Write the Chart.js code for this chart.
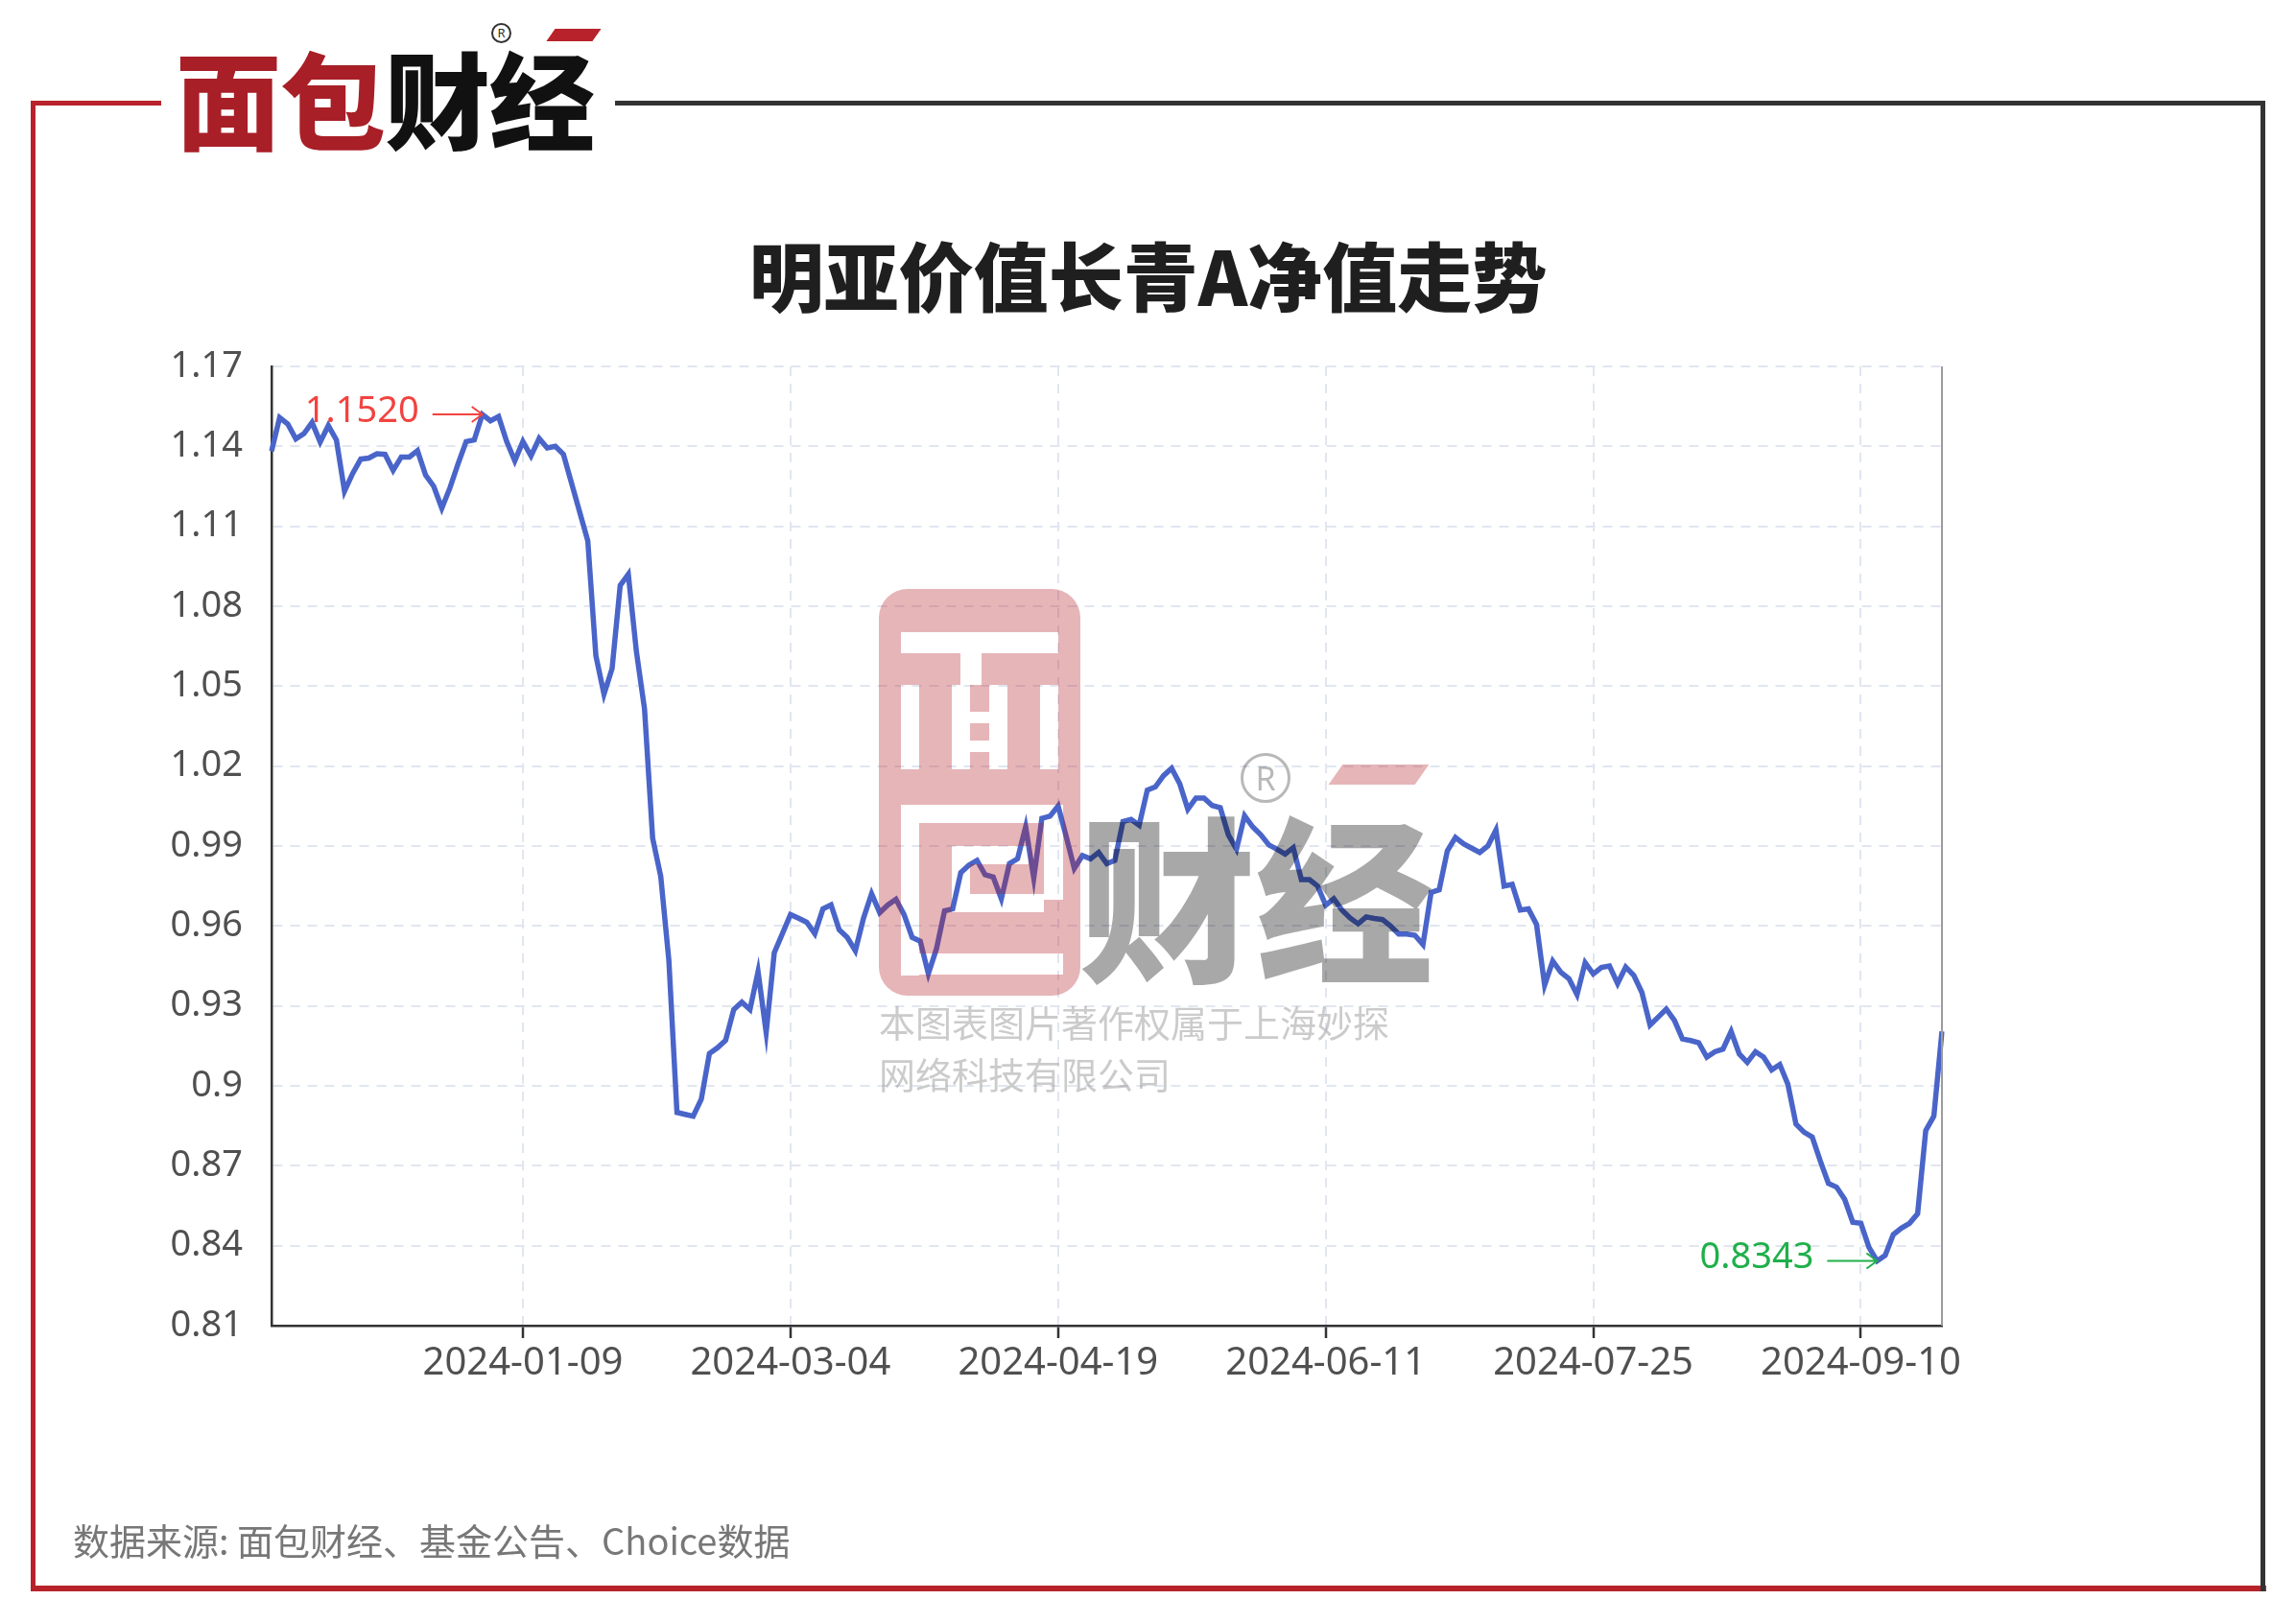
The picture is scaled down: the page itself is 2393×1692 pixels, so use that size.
<!DOCTYPE html>
<html lang="zh-CN">
<head>
<meta charset="utf-8">
<title>明亚价值长青A净值走势</title>
<script src="https://cdn.jsdelivr.net/npm/chart.js@4.4.1/dist/chart.umd.min.js"></script>
<style>
  html, body { margin: 0; padding: 0; background: #fff; }
  body { width: 2393px; height: 1692px; position: relative; overflow: hidden; font-family: "Noto Sans CJK SC", "Noto Sans", sans-serif; }
  .abs { position: absolute; }
  #chartBox { position: absolute; left: 0; top: 0; width: 2393px; height: 1692px; }
  .red { background: #b8232b; }
  .dark { background: #333; }
  #logo { left: 183px; top: 45px; font-size: 110px; font-weight: 900; line-height: 1; white-space: nowrap; letter-spacing: -1px; }
  #logo .r { color: #a81f27; }
  #logo .k { color: #111; }
  #title { left: 0; width: 2393px; top: 246px; text-align: center; font-size: 78px; font-weight: 900; line-height: 1; color: #1f1f1f; }
  #source { left: 76px; top: 1586px; font-size: 38px; line-height: 1; color: #777; }
  .wm { pointer-events: none; line-height: 1; white-space: nowrap; }
  .reg { border-radius: 50%; box-sizing: border-box; text-align: center; font-family: "Noto Sans", sans-serif; }
</style>
</head>
<body>

<!-- 外框 -->
<div class="abs red" style="left:32px;top:105px;width:5px;height:1554px;"></div>
<div class="abs red" style="left:32px;top:1653px;width:2330px;height:6px;"></div>
<div class="abs dark" style="left:2356px;top:105px;width:5px;height:1554px;"></div>
<div class="abs red" style="left:32px;top:105px;width:136px;height:5px;"></div>
<div class="abs dark" style="left:641px;top:105px;width:1720px;height:5px;"></div>

<!-- logo -->
<div id="logo" class="abs"><span class="r">面包</span><span class="k">财经</span></div>
<div class="abs red" style="left:574px;top:30px;width:48px;height:13px;transform:skewX(-35deg);"></div>
<div class="abs reg" style="left:512px;top:24px;width:21px;height:21px;border:2px solid #333;font-size:13px;line-height:17px;color:#333;">R</div>

<div id="title" class="abs">明亚价值长青A净值走势</div>

<div id="chartBox"><canvas id="navChart" width="2393" height="1692"></canvas></div>

<!-- 水印 -->
<svg class="abs wm" style="left:916px;top:614px;" width="210" height="424" viewBox="0 0 210 424">
  <defs>
    <mask id="wmMask">
      <rect x="0" y="0" width="210" height="424" fill="#fff"/>
      <g fill="#000">
        <rect x="23" y="45" width="164" height="22"/>
        <rect x="85" y="67" width="22" height="33"/>
        <rect x="23" y="100" width="19" height="88"/>
        <rect x="168" y="100" width="19" height="88"/>
        <rect x="76" y="100" width="19" height="88"/>
        <rect x="115" y="100" width="19" height="88"/>
        <rect x="95" y="128" width="20" height="12"/>
        <rect x="95" y="158" width="20" height="12"/>
        <rect x="23" y="225" width="19" height="178"/>
        <rect x="42" y="225" width="150" height="19"/>
        <rect x="172" y="244" width="20" height="80"/>
        <rect x="76" y="268" width="80" height="19"/>
        <rect x="76" y="287" width="19" height="50"/>
        <rect x="95" y="318" width="77" height="19"/>
        <rect x="42" y="380" width="150" height="22"/>
      </g>
    </mask>
  </defs>
  <rect x="0" y="0" width="210" height="424" rx="30" ry="30" fill="rgba(180,30,40,0.33)" mask="url(#wmMask)"/>
</svg>
<div class="abs wm" style="left:1124px;top:837px;font-size:185px;font-weight:900;color:rgba(0,0,0,0.34);">财经</div>
<div class="abs wm" style="left:1392px;top:797px;width:90px;height:21px;background:rgba(180,30,40,0.33);transform:skewX(-35deg);"></div>
<div class="abs wm reg" style="left:1293px;top:785px;width:52px;height:52px;border:3px solid rgba(0,0,0,0.28);font-size:34px;line-height:46px;color:rgba(0,0,0,0.28);">R</div>
<div class="abs wm" style="left:916px;top:1046px;font-size:38px;color:rgba(140,140,140,0.45);">本图表图片著作权属于上海妙探</div>
<div class="abs wm" style="left:916px;top:1100px;font-size:38px;color:rgba(140,140,140,0.45);">网络科技有限公司</div>

<div id="source" class="abs">数据来源: 面包财经、基金公告、Choice数据</div>

<script>
// 日期（交易日 + 季末日）
var dates = [
  '2023-11-27','2023-11-28','2023-11-29','2023-11-30',
  '2023-12-01','2023-12-04','2023-12-05','2023-12-06','2023-12-07','2023-12-08','2023-12-11','2023-12-12','2023-12-13','2023-12-14','2023-12-15',
  '2023-12-18','2023-12-19','2023-12-20','2023-12-21','2023-12-22','2023-12-25','2023-12-26','2023-12-27','2023-12-28','2023-12-29','2023-12-31',
  '2024-01-02','2024-01-03','2024-01-04','2024-01-05','2024-01-08','2024-01-09','2024-01-10','2024-01-11','2024-01-12','2024-01-15','2024-01-16',
  '2024-01-17','2024-01-18','2024-01-19','2024-01-22','2024-01-23','2024-01-24','2024-01-25','2024-01-26','2024-01-29','2024-01-30','2024-01-31',
  '2024-02-01','2024-02-02','2024-02-05','2024-02-06','2024-02-07','2024-02-08','2024-02-19','2024-02-20','2024-02-21','2024-02-22','2024-02-23',
  '2024-02-26','2024-02-27','2024-02-28','2024-02-29',
  '2024-03-01','2024-03-04','2024-03-05','2024-03-06','2024-03-07','2024-03-08','2024-03-11','2024-03-12','2024-03-13','2024-03-14','2024-03-15',
  '2024-03-18','2024-03-19','2024-03-20','2024-03-21','2024-03-22','2024-03-25','2024-03-26','2024-03-27','2024-03-28','2024-03-29','2024-03-31',
  '2024-04-01','2024-04-02','2024-04-03','2024-04-08','2024-04-09','2024-04-10','2024-04-11','2024-04-12','2024-04-15','2024-04-16','2024-04-17',
  '2024-04-18','2024-04-19','2024-04-22','2024-04-23','2024-04-24','2024-04-25','2024-04-26','2024-04-29','2024-04-30',
  '2024-05-06','2024-05-07','2024-05-08','2024-05-09','2024-05-10','2024-05-13','2024-05-14','2024-05-15','2024-05-16','2024-05-17',
  '2024-05-20','2024-05-21','2024-05-22','2024-05-23','2024-05-24','2024-05-27','2024-05-28','2024-05-29','2024-05-30','2024-05-31',
  '2024-06-03','2024-06-04','2024-06-05','2024-06-06','2024-06-07','2024-06-11','2024-06-12','2024-06-13','2024-06-14','2024-06-17',
  '2024-06-18','2024-06-19','2024-06-20','2024-06-21','2024-06-24','2024-06-25','2024-06-26','2024-06-27','2024-06-28','2024-06-30',
  '2024-07-01','2024-07-02','2024-07-03','2024-07-04','2024-07-05','2024-07-08','2024-07-09','2024-07-10','2024-07-11','2024-07-12','2024-07-15',
  '2024-07-16','2024-07-17','2024-07-18','2024-07-19','2024-07-22','2024-07-23','2024-07-24','2024-07-25','2024-07-26','2024-07-29','2024-07-30','2024-07-31',
  '2024-08-01','2024-08-02','2024-08-05','2024-08-06','2024-08-07','2024-08-08','2024-08-09','2024-08-12','2024-08-13','2024-08-14','2024-08-15',
  '2024-08-16','2024-08-19','2024-08-20','2024-08-21','2024-08-22','2024-08-23','2024-08-26','2024-08-27','2024-08-28','2024-08-29','2024-08-30',
  '2024-09-02','2024-09-03','2024-09-04','2024-09-05','2024-09-06','2024-09-09','2024-09-10','2024-09-11','2024-09-12','2024-09-13',
  '2024-09-18','2024-09-19','2024-09-20','2024-09-23','2024-09-24','2024-09-25','2024-09-26'
];

// 单位净值
var navValues = [
  1.1382,1.1508,1.1484,1.1428,1.1448,1.1490,1.1416,1.1478,1.1424,1.1232,
  1.1298,1.1352,1.1356,1.1372,1.1370,1.1310,1.1360,1.1360,1.1384,1.1292,
  1.1250,1.1168,1.1244,1.1334,1.1418,1.1424,1.1520,1.1496,1.1512,1.1418,
  1.1346,1.1418,1.1364,1.1430,1.1394,1.1400,1.1370,1.1262,1.1154,1.1046,
  1.0614,1.0470,1.0566,1.0878,1.0920,1.0629,1.0414,0.9929,0.9786,0.9471,
  0.8900,0.8893,0.8886,0.8950,0.9121,0.9143,0.9171,0.9286,0.9314,0.9286,
  0.9429,0.9200,0.9500,0.9571,0.9643,0.9629,0.9614,0.9571,0.9664,0.9679,
  0.9586,0.9557,0.9507,0.9629,0.9721,0.9650,0.9679,0.9700,0.9643,0.9557,
  0.9543,0.9421,0.9514,0.9657,0.9664,0.9800,0.9828,0.9846,0.9792,0.9784,
  0.9702,0.9834,0.9852,0.9972,0.9780,1.0004,1.0012,1.0050,0.9936,0.9816,
  0.9864,0.9852,0.9876,0.9834,0.9846,0.9992,1.0000,0.9978,1.0110,1.0122,
  1.0164,1.0192,1.0134,1.0038,1.0080,1.0080,1.0052,1.0044,0.9942,0.9888,
  1.0014,0.9972,0.9942,0.9904,0.9888,0.9870,0.9894,0.9774,0.9774,0.9750,
  0.9678,0.9702,0.9660,0.9630,0.9608,0.9634,0.9628,0.9624,0.9600,0.9570,
  0.9570,0.9565,0.9530,0.9726,0.9736,0.9882,0.9932,0.9908,0.9892,0.9876,
  0.9900,0.9960,0.9750,0.9756,0.9660,0.9664,0.9606,0.9378,0.9468,0.9426,
  0.9402,0.9342,0.9462,0.9420,0.9444,0.9450,0.9384,0.9446,0.9415,0.9350,
  0.9228,0.9258,0.9288,0.9246,0.9176,0.9170,0.9162,0.9108,0.9128,0.9138,
  0.9204,0.9120,0.9088,0.9128,0.9108,0.9060,0.9080,0.9006,0.8856,0.8826,
  0.8808,0.8718,0.8634,0.8620,0.8574,0.8488,0.8484,0.8394,0.8343,0.8364,
  0.8442,0.8466,0.8484,0.8520,0.8832,0.8886,0.9204
];

var xTickLabels = ['2024-01-09', '2024-03-04', '2024-04-19', '2024-06-11', '2024-07-25', '2024-09-10'];
var yTicks = [0.81, 0.84, 0.87, 0.9, 0.93, 0.96, 0.99, 1.02, 1.05, 1.08, 1.11, 1.14, 1.17];

var gridColor = '#e1e6f0';

// 最高/最低点标注
function drawMark(ctx, p, text, color) {
  var len = 52;
  ctx.strokeStyle = color;
  ctx.fillStyle = color;
  ctx.lineWidth = 2;
  ctx.beginPath();
  ctx.moveTo(p.x - len, p.y);
  ctx.lineTo(p.x, p.y);
  ctx.moveTo(p.x - 11, p.y - 8);
  ctx.lineTo(p.x, p.y);
  ctx.lineTo(p.x - 11, p.y + 8);
  ctx.stroke();
  ctx.font = '38px "Noto Sans", sans-serif';
  ctx.textAlign = 'right';
  ctx.textBaseline = 'middle';
  ctx.fillText(text, p.x - len - 14, p.y - 3);
}

var markPlugin = {
  id: 'marks',
  afterDatasetsDraw: function(chart) {
    var ctx = chart.ctx;
    var area = chart.chartArea;
    ctx.save();
    // 右侧边框
    ctx.strokeStyle = '#9c9c9c';
    ctx.lineWidth = 2;
    ctx.beginPath();
    ctx.moveTo(area.right, area.top);
    ctx.lineTo(area.right, area.bottom);
    ctx.stroke();

    var pts = chart.getDatasetMeta(0).data;
    var hi = navValues.indexOf(Math.max.apply(null, navValues));
    var lo = navValues.indexOf(Math.min.apply(null, navValues));
    drawMark(ctx, pts[hi], navValues[hi].toFixed(4), '#f2433f');
    drawMark(ctx, pts[lo], navValues[lo].toFixed(4), '#1fb04a');
    ctx.restore();
  }
};

var canvas = document.getElementById('navChart');
var grafico = new Chart(canvas, {
  type: 'line',
  data: {
    labels: dates,
    datasets: [{
      label: '单位净值',
      data: navValues,
      borderColor: '#4a65c9',
      borderWidth: 5.5,
      pointRadius: 0,
      tension: 0,
      fill: false
    }]
  },
  options: {
    responsive: false,
    animation: false,
    devicePixelRatio: 1,
    layout: { padding: { top: 382, right: 369, bottom: 0, left: 0 } },
    plugins: {
      legend: { display: false },
      title: { display: false },
      tooltip: { mode: 'index', intersect: false }
    },
    scales: {
      x: {
        type: 'category',
        grid: { color: gridColor, lineWidth: 2, tickLength: 13, tickColor: '#333', tickWidth: 2.5 },
        border: { color: '#333', width: 2.5, dash: [10, 8] },
        ticks: {
          autoSkip: false,
          maxRotation: 0,
          minRotation: 0,
          padding: 3,
          color: '#505050',
          font: { family: '"Noto Sans", sans-serif', size: 40 },
          callback: function(value) {
            var l = this.getLabelForValue(value);
            return xTickLabels.indexOf(l) >= 0 ? l : null;
          }
        },
        afterFit: function(s) { s.height = 310; }
      },
      y: {
        min: 0.81,
        max: 1.17,
        afterBuildTicks: function(s) {
          s.ticks = yTicks.map(function(v) { return { value: v }; });
        },
        grid: { color: gridColor, lineWidth: 2, drawTicks: false },
        border: { color: '#333', width: 2.5, dash: [10, 8] },
        ticks: {
          padding: 30,
          color: '#505050',
          font: { family: '"Noto Sans", sans-serif', size: 38 },
          callback: function(v) { return String(+(+v).toFixed(2)); }
        },
        afterFit: function(s) { s.width = 283; }
      }
    }
  },
  plugins: [markPlugin]
});
</script>
</body>
</html>
